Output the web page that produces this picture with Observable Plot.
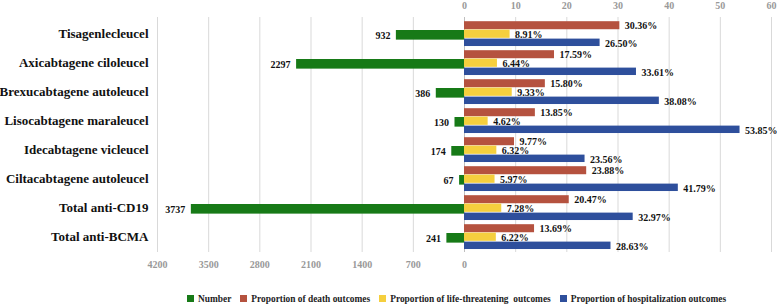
<!DOCTYPE html>
<html>
<head>
<meta charset="utf-8">
<script src="https://cdn.jsdelivr.net/npm/d3@7"></script>
<script src="https://cdn.jsdelivr.net/npm/@observablehq/plot@0.6"></script>
<style>
  html, body { margin: 0; padding: 0; background: #fff; }
  #chart { width: 777px; }
  .legend { display: flex; justify-content: flex-start; align-items: center; gap: 9px;
    font-family: "Liberation Serif", "Times New Roman", serif; font-weight: bold; font-size: 9.4px;
    color: #222; height: 17px; white-space: pre; padding-left: 187px; box-sizing: border-box; width: 777px; }
  .legend span.sw { display: inline-block; width: 7px; height: 7px; margin-right: 4px; vertical-align: middle; }
  .legend .item { display: flex; align-items: center; }
</style>
</head>
<body>
<div id="chart"></div>
<script>
const categories = ["Tisagenlecleucel", "Axicabtagene ciloleucel", "Brexucabtagene autoleucel", "Lisocabtagene maraleucel", "Idecabtagene vicleucel", "Ciltacabtagene autoleucel", "Total anti-CD19", "Total anti-BCMA"];
const numbers = [932, 2297, 386, 130, 174, 67, 3737, 241];
const deathPct = [30.36, 17.59, 15.80, 13.85, 9.77, 23.88, 20.47, 13.69];
const lifePct = [8.91, 6.44, 9.33, 4.62, 6.32, 5.97, 7.28, 6.22];
const hospPct = [26.50, 33.61, 38.08, 53.85, 23.56, 41.79, 32.97, 28.63];
const numberTicks = [4200, 3500, 2800, 2100, 1400, 700, 0];
const percentTicks = [0, 10, 20, 30, 40, 50, 60];
const seriesNames = ["Number", "Proportion of death outcomes", "Proportion of life-threatening  outcomes", "Proportion of hospitalization outcomes"];
const colors = ["#177a17", "#b5523f", "#f5cf3e", "#2e4f9c"];

// number axis shares pixel scale: 700 cases = 10 percentage points
const ratio = 70;
const toX = n => -n / ratio;

const rows = categories.map((c, i) => ({
  cat: c, num: numbers[i], death: deathPct[i], life: lifePct[i], hosp: hospPct[i]
}));

const font = "'Liberation Serif', 'Times New Roman', serif";
const H = 290, mTop = 17, mBottom = 38;
const bw = (H - mTop - mBottom) / categories.length;

const gridVals = [...numberTicks.filter(t => t !== 0).map(toX), ...percentTicks.filter(t => t !== 0)];

const labelStyle = {fontFamily: font, fontWeight: "bold", fontSize: 10, fill: "#111"};

const chart = Plot.plot({
  width: 777,
  height: H,
  marginLeft: 157,
  marginRight: 6,
  marginTop: mTop,
  marginBottom: mBottom,
  style: {fontFamily: font, background: "#fff"},
  x: {domain: [-60, 60], axis: null},
  y: {domain: categories, padding: 0, axis: null},
  marks: [
    Plot.ruleX(gridVals, {stroke: "#d9d9d9", strokeWidth: 1}),
    Plot.ruleX([0], {stroke: "#bfbfbf", strokeWidth: 1}),
    Plot.barX(rows, {y: "cat", x1: 0, x2: d => toX(d.num), fill: colors[0], insetTop: 11, insetBottom: bw - 21}),
    Plot.barX(rows, {y: "cat", x1: 0, x2: "death", fill: colors[1], insetTop: 2.2, insetBottom: bw - 10.6}),
    Plot.barX(rows, {y: "cat", x1: 0, x2: "life", fill: colors[2], insetTop: 10.6, insetBottom: bw - 19.2}),
    Plot.barX(rows, {y: "cat", x1: 0, x2: "hosp", fill: colors[3], insetTop: 19.6, insetBottom: bw - 27.4}),
    Plot.text(rows, {y: "cat", x: d => toX(d.num), text: d => String(d.num), textAnchor: "end", dx: -6, dy: 1.5, ...labelStyle}),
    Plot.text(rows, {y: "cat", x: "death", text: d => d.death.toFixed(2) + "%", textAnchor: "start", dx: 5, dy: -8.3, ...labelStyle}),
    Plot.text(rows, {y: "cat", x: "life", text: d => d.life.toFixed(2) + "%", textAnchor: "start", dx: 5, dy: 0.5, ...labelStyle}),
    Plot.text(rows, {y: "cat", x: "hosp", text: d => d.hosp.toFixed(2) + "%", textAnchor: "start", dx: 5, dy: 9.5, ...labelStyle}),
    Plot.axisY({tickSize: 0, tickPadding: 9, fontSize: 13, fontWeight: "bold", fontFamily: font, fill: "#111", label: null}),
    Plot.axisX(numberTicks.map(toX), {anchor: "bottom", tickSize: 0, tickPadding: 8, tickFormat: d => String(Math.abs(Math.round(d * ratio))), fontSize: 10, fontWeight: "bold", fill: "#999", label: null, fontFamily: font}),
    Plot.axisX(percentTicks, {anchor: "top", tickSize: 0, tickPadding: 9, tickFormat: d => String(d), fontSize: 10, fontWeight: "bold", fill: "#999", label: null, fontFamily: font})
  ]
});

const root = document.getElementById("chart");
root.appendChild(chart);
const legend = document.createElement("div");
legend.className = "legend";
seriesNames.forEach((name, i) => {
  const item = document.createElement("div");
  item.className = "item";
  const sw = document.createElement("span");
  sw.className = "sw";
  sw.style.background = colors[i];
  item.appendChild(sw);
  item.appendChild(document.createTextNode(name));
  legend.appendChild(item);
});
root.appendChild(legend);
</script>
</body>
</html>
